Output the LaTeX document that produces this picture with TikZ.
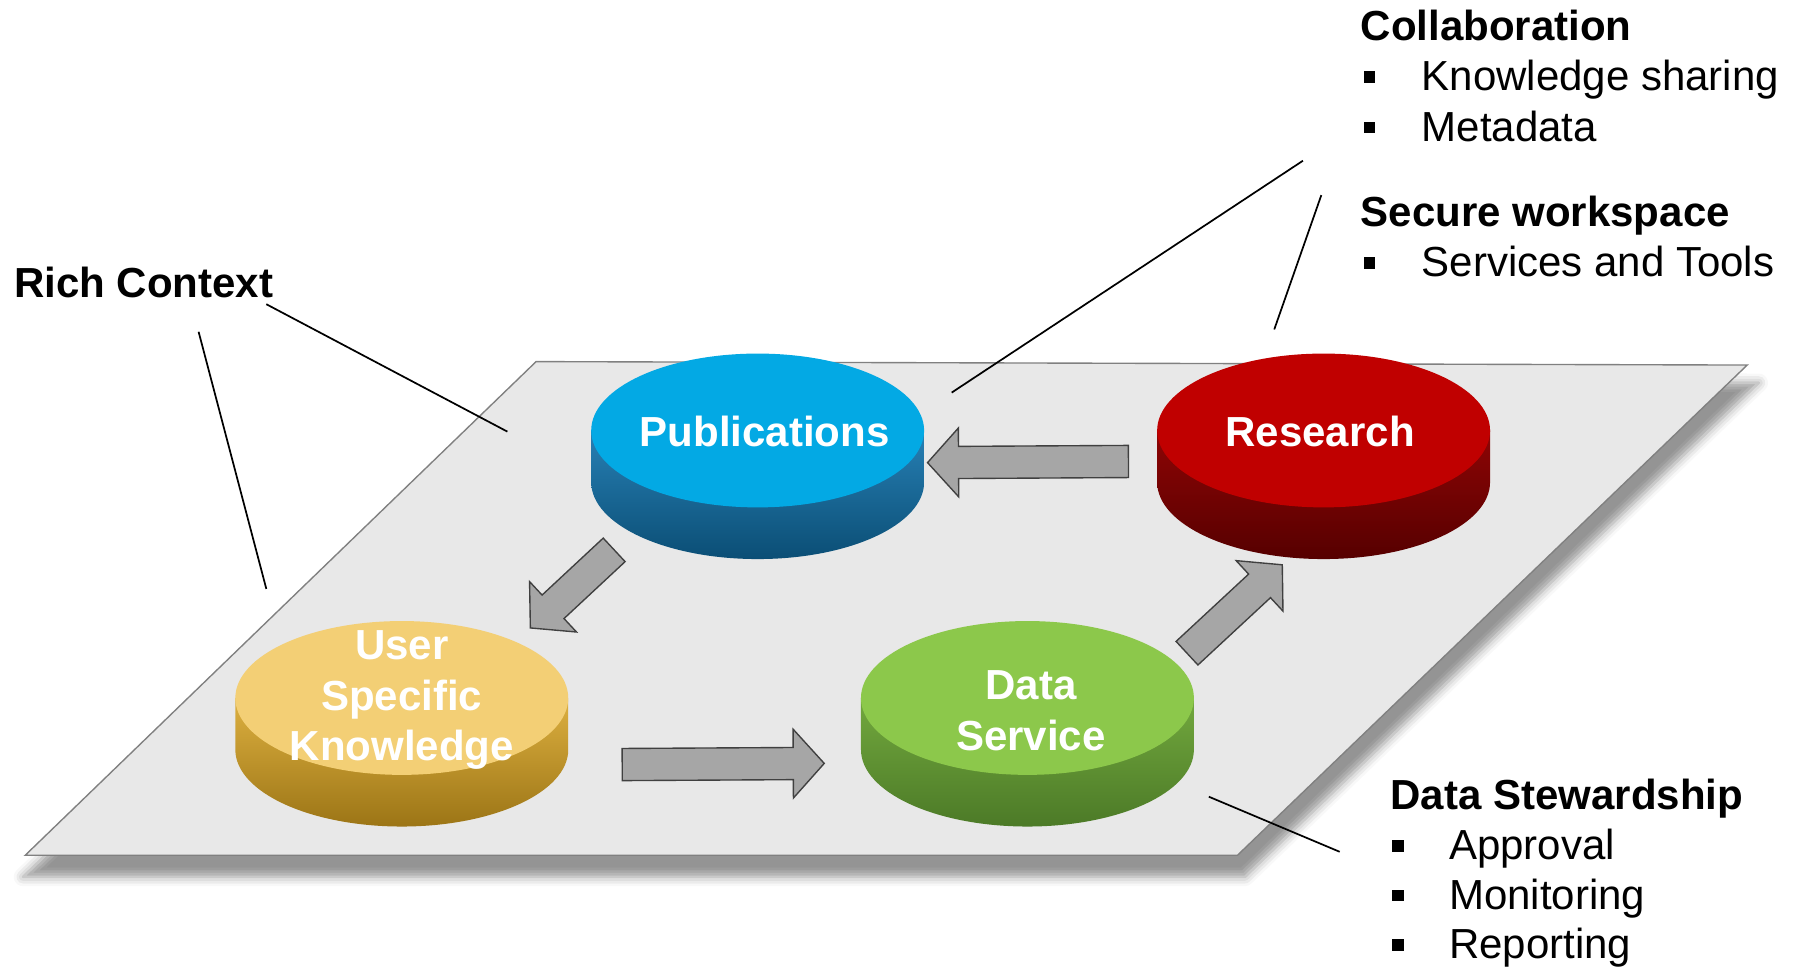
\documentclass[tikz,border=0pt]{standalone}
\usepackage{fontspec}
\setmainfont{Liberation Sans}
\usetikzlibrary{calc,shadows.blur}
\definecolor{platefill}{HTML}{E8E8E8}
\definecolor{plateline}{HTML}{808080}
\definecolor{arrowgray}{HTML}{A6A6A6}
\definecolor{arrowline}{HTML}{404040}
\definecolor{bluetop}{HTML}{03A9E4}
\definecolor{blueside1}{HTML}{2780B5}
\definecolor{blueside2}{HTML}{0B4E75}
\definecolor{redtop}{HTML}{C00000}
\definecolor{redside1}{HTML}{8E0505}
\definecolor{redside2}{HTML}{560000}
\definecolor{yeltop}{HTML}{F3CF75}
\definecolor{yelside1}{HTML}{DDB040}
\definecolor{yelside2}{HTML}{9C7516}
\definecolor{grntop}{HTML}{8CC84B}
\definecolor{grnside1}{HTML}{72A83E}
\definecolor{grnside2}{HTML}{4C7A27}
\tikzset{
  lbl/.style={font=\fontsize{18.3}{22}\selectfont, inner sep=0pt, anchor=base west},
  headlbl/.style={lbl, font=\fontsize{18.3}{22}\selectfont\bfseries},
  disclbl/.style={font=\fontsize{18.3}{22}\selectfont\bfseries, text=white, align=center, inner sep=0pt},
  bul/.style={fill=black, minimum size=5pt, inner sep=0pt},
  callout/.style={draw=black, line width=0.75pt},
  barrow/.style={fill=arrowgray, draw=arrowline, line width=0.6pt, line join=miter},
}
\newcommand\mydisc[6]{%
  \shade[top color=#5, bottom color=#6] (#2-145,#3) -- (#2-145,#3+45)
     arc[start angle=180, end angle=0, x radius=145, y radius=67] -- (#2+145,#3) -- cycle;
  \fill[#4] (#2,#3) ellipse[x radius=145, y radius=67];
  \coordinate (#1) at (#2,#3);
}
\newcommand\blockarrow[3]{%
  \coordinate (#3h) at ($(#2)!13.5pt!(#1)$);
  \draw[barrow] ($(#1)!7pt!90:(#2)$) -- ($(#3h)!7pt!90:(#2)$) -- ($(#3h)!15pt!90:(#2)$)
     -- (#2) -- ($(#3h)!15pt!-90:(#2)$) -- ($(#3h)!7pt!-90:(#2)$) -- ($(#1)!7pt!-90:(#2)$) -- cycle;
}
\begin{document}
\begin{tikzpicture}[x=0.5pt, y=-0.5pt]
\useasboundingbox (0,0) rectangle (1568,845);
% plate
\draw[fill=platefill, draw=plateline, line width=0.6pt,
  blur shadow={shadow xshift=2pt, shadow yshift=-8.5pt, shadow scale=1.008, shadow blur radius=4pt, shadow opacity=42}]
  (467,315) -- (1522,318) -- (1078,745) -- (22,745) -- cycle;
% discs
\mydisc{pub}{660}{375}{bluetop}{blueside1}{blueside2}
\mydisc{res}{1153}{375}{redtop}{redside1}{redside2}
\mydisc{usk}{350}{608}{yeltop}{yelside1}{yelside2}
\mydisc{dat}{895}{608}{grntop}{grnside1}{grnside2}
\node[disclbl] (publbl) at (666,376) {Publications};
\node[disclbl] (reslbl) at (1150,376) {Research};
\node[disclbl] (usklbl) at (350,610) {User\\Specific\\Knowledge};
\node[disclbl] (datlbl) at (898,619) {Data\\Service};
% block arrows
\coordinate (a1t) at (983,402);  \coordinate (a1h) at (808,403);
\coordinate (a2t) at (535,479);  \coordinate (a2h) at (462,547);
\coordinate (a3t) at (542,666);  \coordinate (a3h) at (718,665);
\coordinate (a4t) at (1034,569); \coordinate (a4h) at (1117,492);
\blockarrow{a1t}{a1h}{aa}
\blockarrow{a2t}{a2h}{ab}
\blockarrow{a3t}{a3h}{ac}
\blockarrow{a4t}{a4h}{ad}
% texts
\node[headlbl] (collab) at (1185,35) {Collaboration};
\node[bul] (b1) at (1193,67) {};  \node[lbl] (t1) at (1238,79) {Knowledge sharing};
\node[bul] (b2) at (1193,111) {}; \node[lbl] (t2) at (1238,123) {Metadata};
\node[headlbl] (secure) at (1185,197) {Secure workspace};
\node[bul] (b3) at (1193,229) {}; \node[lbl] (t3) at (1238,241) {Services and Tools};
\node[headlbl] (rich) at (12,259) {Rich Context};
\node[headlbl] (steward) at (1211,705) {Data Stewardship};
\node[bul] (b4) at (1218,737) {}; \node[lbl] (t4) at (1262,749) {Approval};
\node[bul] (b5) at (1218,780) {}; \node[lbl] (t5) at (1262,792) {Monitoring};
\node[bul] (b6) at (1218,823) {}; \node[lbl] (t6) at (1262,835) {Reporting};
% callout lines
\coordinate (c1a) at (232,265);  \coordinate (c1b) at (442,376);
\coordinate (c2a) at (173,289);  \coordinate (c2b) at (232,513);
\coordinate (c3a) at (1135,140); \coordinate (c3b) at (829,342);
\coordinate (c4a) at (1151,170); \coordinate (c4b) at (1110,287);
\coordinate (c5a) at (1053,694); \coordinate (c5b) at (1167,742);
\draw[callout] (c1a) -- (c1b);
\draw[callout] (c2a) -- (c2b);
\draw[callout] (c3a) -- (c3b);
\draw[callout] (c4a) -- (c4b);
\draw[callout] (c5a) -- (c5b);
\end{tikzpicture}
\end{document}
